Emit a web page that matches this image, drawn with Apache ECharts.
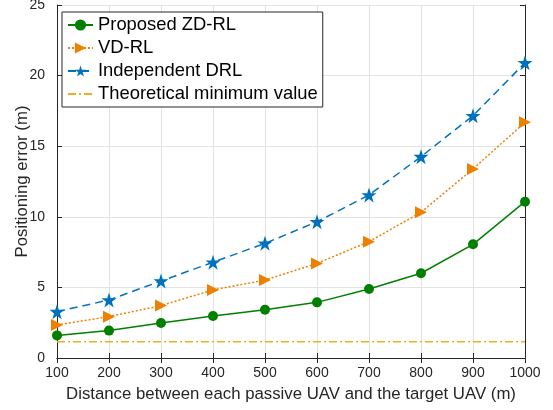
<!DOCTYPE html>
<html><head><meta charset="utf-8">
<script src="https://cdn.jsdelivr.net/npm/echarts@6/dist/echarts.min.js"></script>
<style>html,body{margin:0;padding:0;background:#fff}#c{width:553px;height:410px}</style>
</head><body><div id="c"></div>
<script>
const distances = [100, 200, 300, 400, 500, 600, 700, 800, 900, 1000];
const zdRL = [1.60, 1.94, 2.48, 2.97, 3.42, 3.94, 4.89, 6.00, 8.05, 11.07];
const vdRL = [2.34, 2.93, 3.71, 4.82, 5.52, 6.70, 8.24, 10.32, 13.39, 16.69];
const indepDRL = [3.28, 4.11, 5.45, 6.78, 8.12, 9.65, 11.54, 14.26, 17.16, 20.91];
const theoMin = [1.15, 1.15, 1.15, 1.15, 1.15, 1.15, 1.15, 1.15, 1.15, 1.15];
const yTicks = [0, 5, 10, 15, 20, 25];
const xTicks = [100, 200, 300, 400, 500, 600, 700, 800, 900, 1000];

const FONT = '"Liberation Sans", Arial, Helvetica, sans-serif';
const AX = '#262626';
const star = 'path://M50,0 L61.8,35.1 L98.9,35.1 L69.1,57.3 L80.3,92.7 L50,71 L19.7,92.7 L30.9,57.3 L1.1,35.1 L38.2,35.1 Z';

const pair = (xs, ys) => xs.map((x, i) => [x, ys[i]]);

const chart = echarts.init(document.getElementById('c'), null, {renderer: 'canvas'});
chart.setOption({
  animation: false,
  backgroundColor: '#fff',
  textStyle: {fontFamily: FONT},
  grid: {left: 57, right: 28, top: 5, bottom: 52, containLabel: false, outerBoundsMode: 'none'},
  legend: {
    orient: 'vertical', left: 62, top: 12,
    padding: [4, 5, 4, 5], itemGap: 5, itemWidth: 25, itemHeight: 14,
    borderColor: AX, borderWidth: 1, backgroundColor: '#fff',
    textStyle: {fontFamily: FONT, fontSize: 18.4, color: '#000'},
    data: ['Proposed ZD-RL', 'VD-RL', 'Independent DRL',
      {name: 'Theoretical minimum value', itemStyle: {color: 'rgba(0,0,0,0)', borderWidth: 0, opacity: 0}}]
  },
  xAxis: [{
    type: 'value', min: 100, max: 1000, interval: 100,
    name: 'Distance between each passive UAV and the target UAV (m)',
    nameLocation: 'middle', nameGap: 28, nameMoveOverlap: false,
    nameTextStyle: {fontFamily: FONT, fontSize: 16.8, color: AX},
    axisLine: {show: true, lineStyle: {color: AX, width: 1}},
    axisTick: {show: true, inside: true, length: 5, lineStyle: {color: AX}},
    axisLabel: {fontFamily: FONT, fontSize: 14, color: AX, margin: 8,
      formatter: v => xTicks.includes(v) ? String(v) : ''},
    splitLine: {show: true, lineStyle: {color: '#e3e3e3', width: 1}}
  }, {
    type: 'value', position: 'top', min: 100, max: 1000, interval: 100,
    axisLine: {show: true, lineStyle: {color: AX, width: 1}},
    axisTick: {show: true, inside: true, length: 5, lineStyle: {color: AX}},
    axisLabel: {show: false}, splitLine: {show: false}
  }],
  yAxis: [{
    type: 'value', min: 0, max: 25, interval: 5,
    name: 'Positioning error (m)', nameLocation: 'middle', nameGap: 26, nameMoveOverlap: false,
    nameTextStyle: {fontFamily: FONT, fontSize: 16.8, color: AX},
    axisLine: {show: true, lineStyle: {color: AX, width: 1}},
    axisTick: {show: true, inside: true, length: 5, lineStyle: {color: AX}},
    axisLabel: {fontFamily: FONT, fontSize: 14, color: AX, margin: 12,
      formatter: v => yTicks.includes(v) ? String(v) : ''},
    splitLine: {show: true, lineStyle: {color: '#e3e3e3', width: 1}}
  }, {
    type: 'value', position: 'right', min: 0, max: 25, interval: 5,
    axisLine: {show: true, lineStyle: {color: AX, width: 1}},
    axisTick: {show: true, inside: true, length: 5, lineStyle: {color: AX}},
    axisLabel: {show: false}, splitLine: {show: false}
  }],
  series: [{
    name: 'Proposed ZD-RL', type: 'line', data: pair(distances, zdRL),
    symbol: 'circle', symbolSize: 10, z: 4,
    lineStyle: {color: '#008000', width: 1.5, type: 'solid'},
    itemStyle: {color: '#008000', borderWidth: 0}
  }, {
    name: 'VD-RL', type: 'line', data: pair(distances, vdRL),
    symbol: 'triangle', symbolRotate: -90, symbolSize: 12, z: 3,
    lineStyle: {color: '#EE8000', width: 1.5, type: [2, 2]},
    itemStyle: {color: '#EE8000', borderWidth: 0}
  }, {
    name: 'Independent DRL', type: 'line', data: pair(distances, indepDRL),
    symbol: star, symbolSize: 15, z: 3,
    lineStyle: {color: '#0072BD', width: 1.5, type: [8, 5]},
    itemStyle: {color: '#0072BD', borderWidth: 0}
  }, {
    name: 'Theoretical minimum value', type: 'line', data: pair(distances, theoMin),
    symbol: 'none', z: 2,
    lineStyle: {color: '#EDB120', width: 1.6, type: [8, 3, 2, 3]},
    itemStyle: {color: '#EDB120'}
  }]
});
</script></body></html>
